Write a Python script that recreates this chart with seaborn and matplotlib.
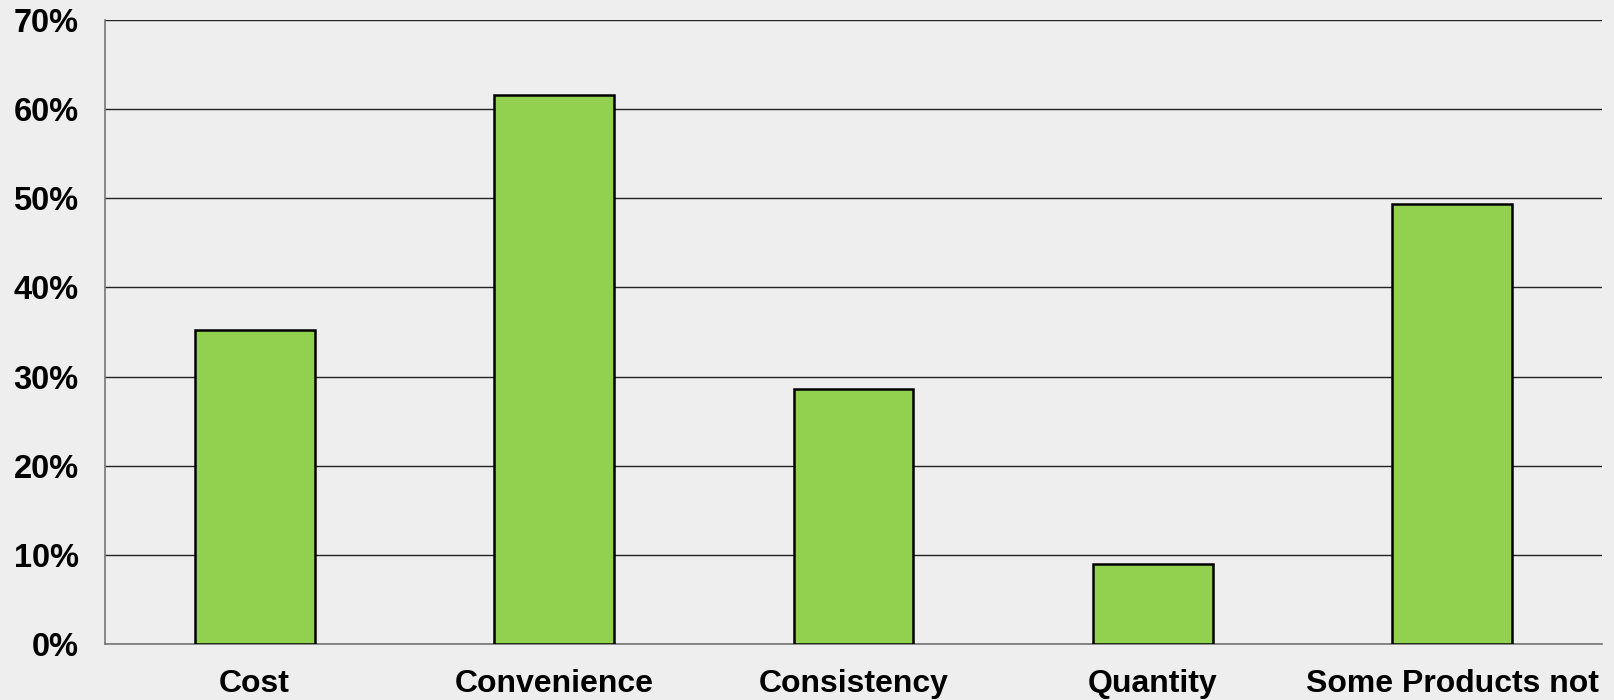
import pandas as pd
import matplotlib.pyplot as plt
import seaborn as sns
from matplotlib.ticker import PercentFormatter, FixedLocator

# Data
categories = ["Cost", "Convenience", "Consistency", "Quantity", "Some Products not"]
shares = [0.352, 0.616, 0.286, 0.090, 0.494]
y_ticks = [0, 0.1, 0.2, 0.3, 0.4, 0.5, 0.6, 0.7]

df = pd.DataFrame({"category": categories, "share": shares})

sns.set_style("white")
plt.rcParams["font.family"] = ["Liberation Sans", "DejaVu Sans"]

fig = plt.figure(figsize=(16.15, 7), dpi=100, facecolor="#eeeeee")
ax = fig.add_axes([0.065, 0.08, 0.927, 0.8914])
ax.set_facecolor("#eeeeee")

sns.barplot(data=df, x="category", y="share", color="#92d050", saturation=1,
            edgecolor="black", linewidth=1.8, width=0.4, ax=ax, zorder=3)

ax.set_xlim(-0.5, len(categories) - 0.5)
ax.set_ylim(0, 0.7)
ax.yaxis.set_major_locator(FixedLocator(y_ticks))
ax.yaxis.set_major_formatter(PercentFormatter(1.0, decimals=0))
ax.grid(axis="y", color="#222222", linewidth=1, zorder=0)
ax.set_axisbelow(True)

for side in ["top", "right"]:
    ax.spines[side].set_visible(False)
for side in ["left", "bottom"]:
    ax.spines[side].set_color("#777777")
    ax.spines[side].set_linewidth(1.2)

ax.set_xlabel("")
ax.set_ylabel("")
ax.tick_params(axis="y", length=7, width=1, color="#444444", pad=12,
               labelsize=23.5, labelcolor="black")
ax.tick_params(axis="x", which="major", length=0, pad=18, labelsize=23,
               labelcolor="black")
ax.set_xticks([i + 0.5 for i in range(-1, len(categories))], minor=True)
ax.tick_params(axis="x", which="minor", length=7, width=1, color="#444444")
for lbl in ax.get_xticklabels() + ax.get_yticklabels():
    lbl.set_fontweight("bold")

plt.savefig("out.png", dpi=100, facecolor=fig.get_facecolor())
